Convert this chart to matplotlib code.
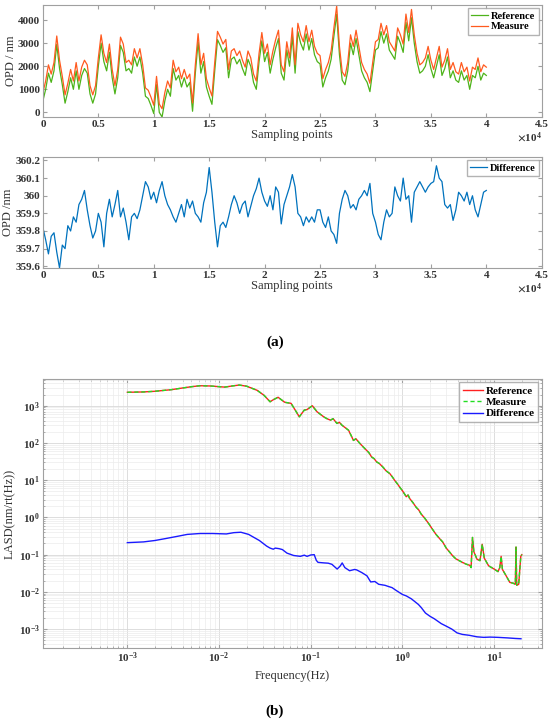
import numpy as np
import matplotlib
matplotlib.use("Agg")
import matplotlib.pyplot as plt
from matplotlib.ticker import FuncFormatter, LogLocator, NullFormatter

plt.rcParams["font.family"] = ["Liberation Serif", "DejaVu Serif"]
plt.rcParams["font.weight"] = "bold"
plt.rcParams["mathtext.fontset"] = "stix"
plt.rcParams["mathtext.default"] = "bf"

# sampling points, one reading every 250 samples
samples = np.arange(0, 40001, 250)

opd_reference = [
    500, 1000, 1700, 1300, 1800, 2950, 1900, 1200, 400, 900,
    1500, 1000, 1800, 1000, 1600, 1900, 1700, 800, 400, 800,
    2000, 3000, 2200, 1800, 2600, 1500, 800, 1500, 2900, 2600,
    1800, 1900, 1700, 2400, 2000, 2400, 1700, 700, 600, 300,
    -50, 1200, 0, -200, 500, 1000, 700, 1900, 1400, 1600,
    1100, 1500, 1100, 1300, 50, 1700, 3050, 1700, 2200, 1100,
    700, 350, 1800, 3150, 2900, 2600, 2800, 1500, 2300, 2400,
    2100, 2300, 1900, 1600, 2300, 2000, 1300, 1000, 2200, 3100,
    2200, 2600, 1700, 2300, 2800, 3200, 1700, 1400, 2700, 2000,
    3300, 1700, 3500, 3000, 2700, 3400, 2700, 3200, 2500, 2200,
    2100, 1100, 1500, 1800, 2300, 3300, 4250, 2500, 1400, 1200,
    1800, 3000, 2500, 3200, 2500, 1800, 1500, 1300, 900, 1800,
    2700, 2800, 3500, 3000, 3400, 2700, 2500, 2300, 3300, 3000,
    2600, 3900, 3100, 4100, 3000, 2200, 1700, 1800, 2000, 2500,
    1900, 1500, 2000, 2500, 1600, 1900, 2400, 1500, 1800, 1400,
    1300, 1800, 1400, 1600, 1000, 1600, 1500, 2000, 1400, 1700,
    1600,
]

opd_difference = [
    359.82, 359.75, 359.67, 359.77, 359.79, 359.68, 359.59, 359.72, 359.70, 359.83,
    359.80, 359.88, 359.85, 359.95, 359.98, 360.03, 359.92, 359.83, 359.76, 359.80,
    359.90, 359.85, 359.71, 359.90, 359.98, 359.88, 359.95, 360.03, 359.88, 359.93,
    359.85, 359.75, 359.88, 359.90, 359.87, 359.92, 360.00, 360.08, 360.05, 359.98,
    360.02, 359.96, 360.03, 360.08, 360.00, 359.95, 359.92, 359.88, 359.85, 359.90,
    359.95, 359.88, 359.98, 359.93, 359.97, 359.90, 359.88, 359.85, 359.96, 360.02,
    360.16, 360.02, 359.85, 359.71, 359.83, 359.85, 359.82, 359.88, 359.95, 360.00,
    359.96, 359.90, 359.95, 359.97, 359.88, 359.94, 360.00, 360.04, 360.10, 360.02,
    359.97, 359.94, 360.00, 359.92, 360.05, 360.02, 359.84, 359.95, 360.00, 360.05,
    360.12, 360.05, 359.90, 359.88, 359.83, 359.88, 359.85, 359.88, 359.85, 359.92,
    359.92, 359.85, 359.82, 359.88, 359.80, 359.78, 359.73, 359.90, 359.98, 360.03,
    360.00, 359.93, 359.95, 359.92, 359.98, 360.00, 360.03, 360.00, 360.07, 359.90,
    359.85, 359.78, 359.75, 359.85, 359.92, 359.88, 359.90, 360.05, 360.00, 359.97,
    360.10, 359.98, 360.00, 359.85, 360.02, 360.05, 360.08, 360.05, 360.02, 360.05,
    360.07, 360.08, 360.17, 360.10, 360.08, 359.95, 359.93, 359.95, 359.86, 359.92,
    360.02, 360.00, 359.97, 360.02, 359.95, 360.00, 359.92, 359.88, 359.95, 360.02,
    360.03,
]

opd_measure = np.array(opd_reference) + np.array(opd_difference)

# spectral densities
freq_main = [
    1e-3, 1.5e-3, 2e-3, 3e-3, 4e-3, 5e-3, 6.2e-3, 8e-3, 0.0115, 0.0145,
    0.0166, 0.02, 0.026, 0.031, 0.036, 0.039, 0.044, 0.052, 0.061, 0.075,
    0.085, 0.091, 0.104, 0.117, 0.139, 0.15, 0.164, 0.175, 0.193, 0.205,
    0.219, 0.258, 0.275, 0.292, 0.31, 0.345, 0.37, 0.407, 0.43, 0.461,
    0.49, 0.523, 0.56, 0.617, 0.66, 0.728, 0.78, 0.824, 0.88, 0.933,
    1.0, 1.10, 1.15, 1.20, 1.3, 1.41, 1.5, 1.60, 1.75, 1.95,
    2.1, 2.32, 2.54, 2.74, 3.0, 3.24, 3.5, 3.8, 4.2, 4.5,
    5.0, 5.4, 5.6, 5.8, 6.0, 6.5, 7.0, 7.4, 7.8, 8.7,
    10, 11, 11.5, 11.9, 12.3, 13.5, 14.8, 16.2, 17.0, 17.3,
    17.6, 18.5, 19.5, 20,
]
lasd_ref = [
    2300, 2350, 2450, 2700, 3000, 3250, 3450, 3400, 3170, 3450,
    3600, 3350, 2600, 1900, 1280, 1450, 1690, 1240, 1160, 505,
    765, 790, 1000, 690, 500, 450, 410, 450, 335, 360,
    300, 220, 160, 117, 130, 96, 80, 63, 55, 42,
    38, 31, 28, 22, 18, 15, 12, 9.8, 8, 6.5,
    5.2, 3.6, 4.0, 3.2, 2.5, 1.87, 1.6, 1.23, 0.95, 0.66,
    0.5, 0.35, 0.27, 0.22, 0.15, 0.12, 0.095, 0.078, 0.068, 0.062,
    0.055, 0.052, 0.045, 0.29, 0.12, 0.075, 0.069, 0.19, 0.08, 0.05,
    0.041, 0.035, 0.045, 0.09, 0.04, 0.027, 0.018, 0.017, 0.016, 0.16,
    0.015, 0.016, 0.09, 0.1,
]
lasd_meas = list(lasd_ref)  # overlaps the reference curve at this scale

freq_diff = [
    1e-3, 1.5e-3, 2e-3, 2.6e-3, 3.5e-3, 4.5e-3, 6.2e-3, 8.5e-3, 0.012, 0.0145,
    0.0173, 0.021, 0.0275, 0.033, 0.036, 0.039, 0.041, 0.045, 0.049, 0.055,
    0.065, 0.077, 0.085, 0.091, 0.1, 0.109, 0.115, 0.12, 0.14, 0.155,
    0.17, 0.194, 0.21, 0.22, 0.235, 0.265, 0.3, 0.316, 0.36, 0.41,
    0.45, 0.5, 0.55, 0.645, 0.7, 0.77, 0.85, 1.0, 1.1, 1.25,
    1.4, 1.49, 1.6, 1.78, 2.0, 2.22, 2.65, 3.0, 3.45, 3.94,
    4.5, 5.37, 6.5, 7.7, 9.0, 11, 14, 17, 19.6,
]
lasd_diff = [
    0.21, 0.22, 0.24, 0.27, 0.31, 0.35, 0.37, 0.37, 0.36, 0.39,
    0.40, 0.35, 0.24, 0.17, 0.15, 0.14, 0.15, 0.145, 0.137, 0.11,
    0.095, 0.09, 0.097, 0.09, 0.098, 0.1, 0.07, 0.062, 0.06, 0.059,
    0.055, 0.041, 0.05, 0.06, 0.045, 0.037, 0.04, 0.039, 0.033, 0.027,
    0.0185, 0.019, 0.016, 0.015, 0.014, 0.013, 0.011, 0.0085, 0.0078, 0.0065,
    0.0052, 0.0046, 0.0038, 0.0027, 0.0022, 0.0019, 0.0014, 0.0012, 0.001, 0.00079,
    0.00072, 0.00068, 0.00062, 0.0006, 0.00061, 0.0006, 0.00058, 0.00056, 0.00055,
]

freq_ticks = [1e-3, 1e-2, 1e-1, 1e0, 1e1]
lasd_ticks = [1e-3, 1e-2, 1e-1, 1e0, 1e1, 1e2, 1e3]

spine_col = "#a0a0a0"
text_col = "#333333"
tick_fs = 8
label_fs = 9


def style_axes(ax):
    for s in ax.spines.values():
        s.set_color(spine_col)
        s.set_linewidth(0.8)
    ax.tick_params(which="both", direction="in", top=True, right=True,
                   colors=spine_col, labelcolor=text_col, labelsize=tick_fs, pad=2)
    ax.tick_params(which="major", length=3)
    ax.tick_params(which="minor", length=1.5)


def x_in_1e4(ax):
    ax.xaxis.set_major_formatter(FuncFormatter(lambda v, p: "%g" % (v / 1e4)))
    ax.text(1.0, -0.12, r"$\times\mathregular{10^{4}}$", transform=ax.transAxes,
            ha="right", va="top", fontsize=tick_fs, color=text_col)


fig = plt.figure(figsize=(5.5, 7.21), dpi=100)

ax1 = fig.add_axes([0.078, 0.8377, 0.907, 0.1553])
ax1.plot(samples, opd_reference, color="#4db31a", linewidth=0.9, label="Reference")
ax1.plot(samples, opd_measure, color="#ff5a1f", linewidth=0.9, label="Measure")
ax1.set_xlim(0, 45000)
ax1.set_ylim(-200, 4650)
ax1.set_xticks(np.arange(0, 45001, 5000))
ax1.set_yticks(np.arange(0, 4001, 1000))
x_in_1e4(ax1)
style_axes(ax1)
ax1.set_xlabel("Sampling points", fontsize=label_fs, color=text_col, labelpad=0)
ax1.set_ylabel("OPD / nm", fontsize=label_fs, color=text_col, labelpad=1)
ax1.legend(loc="upper right", fontsize=7.5, frameon=True, fancybox=False,
           edgecolor=spine_col, borderpad=0.3, handlelength=1.6,
           handletextpad=0.3, labelspacing=0.15, borderaxespad=0.3)

ax2 = fig.add_axes([0.078, 0.6283, 0.907, 0.154])
ax2.plot(samples, opd_difference, color="#0072bd", linewidth=0.9, label="Difference")
ax2.set_xlim(0, 45000)
ax2.set_ylim(359.59, 360.22)
ax2.set_xticks(np.arange(0, 45001, 5000))
yt = np.round(np.arange(359.6, 360.21, 0.1), 1)
ax2.set_yticks(yt)
ax2.set_yticklabels(["%g" % v for v in yt])
x_in_1e4(ax2)
style_axes(ax2)
ax2.set_xlabel("Sampling points", fontsize=label_fs, color=text_col, labelpad=0)
ax2.set_ylabel("OPD /nm", fontsize=label_fs, color=text_col, labelpad=1)
ax2.legend(loc="upper right", fontsize=7.5, frameon=True, fancybox=False,
           edgecolor=spine_col, borderpad=0.3, handlelength=1.6,
           handletextpad=0.3, borderaxespad=0.3)

ax3 = fig.add_axes([0.078, 0.1012, 0.907, 0.373])
ax3.loglog(freq_main, lasd_ref, color="#ff2020", linewidth=1.0, label="Reference")
ax3.loglog(freq_main, lasd_meas, color="#22dd22", linewidth=1.0,
           linestyle=(0, (3, 2)), label="Measure")
ax3.loglog(freq_diff, lasd_diff, color="#1a1aff", linewidth=1.0, label="Difference")
ax3.set_xlim(1.2e-4, 33)
ax3.set_ylim(3.1e-4, 5.2e3)
ax3.set_xticks(freq_ticks)
ax3.set_yticks(lasd_ticks)
ax3.xaxis.set_minor_locator(LogLocator(base=10, subs=np.arange(2, 10), numticks=12))
ax3.yaxis.set_minor_locator(LogLocator(base=10, subs=np.arange(2, 10), numticks=12))
ax3.xaxis.set_minor_formatter(NullFormatter())
ax3.yaxis.set_minor_formatter(NullFormatter())
ax3.grid(True, which="major", color="#d8d8d8", linewidth=0.6)
ax3.grid(True, which="minor", color="#ececec", linewidth=0.5)
ax3.set_axisbelow(True)
style_axes(ax3)
ax3.set_xlabel("Frequency(Hz)", fontsize=label_fs, color=text_col, labelpad=3)
ax3.set_ylabel("LASD(nm/rt(Hz))", fontsize=label_fs, color=text_col, labelpad=2)
ax3.legend(loc="upper right", fontsize=8, frameon=True, fancybox=False,
           edgecolor=spine_col, borderpad=0.3, handlelength=1.8,
           handletextpad=0.3, labelspacing=0.15, borderaxespad=0.3)

fig.text(0.5, 1 - 342 / 721, "(a)", ha="center", va="center", fontsize=11, color="black")
fig.text(0.5, 1 - 711 / 721, "(b)", ha="center", va="center", fontsize=11, color="black")

fig.savefig("out.png", dpi=100)
